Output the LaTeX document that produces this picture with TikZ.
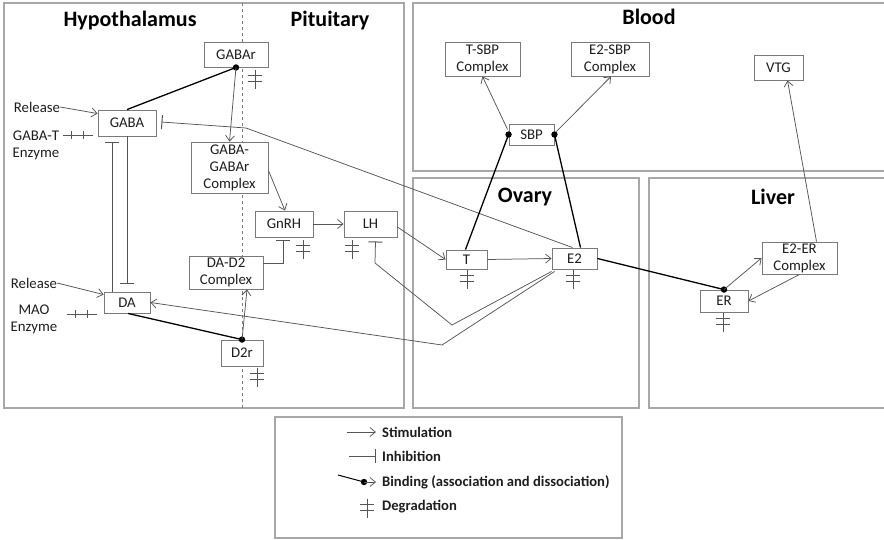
\documentclass[tikz,border=0pt]{standalone}
\usepackage{fontspec}
\setmainfont{Carlito}
\usetikzlibrary{arrows.meta}

\definecolor{panelc}{HTML}{A8A8A8}
\definecolor{boxc}{HTML}{7A7A7A}
\definecolor{linec}{HTML}{555555}
\definecolor{textc}{HTML}{1E1E1E}

\tikzset{
  panel/.style={draw=panelc, line width=1.4pt},
  species/.style={draw=boxc, line width=0.9pt, fill=white, inner sep=0pt, align=center,
    text=textc, font=\fontsize{14.8}{17}\selectfont},
  title/.style={font=\bfseries\fontsize{22}{25}\selectfont, text=black},
  side/.style={align=center, text=textc, font=\fontsize{14.8}{17}\selectfont, inner sep=0pt},
  legtext/.style={anchor=west, text=textc, inner sep=0pt, font=\bfseries\fontsize{14.6}{16}\selectfont},
  stim/.style={draw=linec, line width=0.75pt, -{Straight Barb[length=5.5pt,width=9pt]}},
  inh/.style={draw=linec, line width=0.75pt, -{Bar[width=14pt,line width=1pt]}},
  bind/.style={draw=black, line width=1.3pt},
  deg/.style={draw=linec, line width=0.8pt},
  degv/.pic={\draw[deg] (0,0) -- (0,19) (-7,5) -- (7,5) (-7,11) -- (7,11);},
  degh/.pic={\draw[deg] (0,0) -- (-30,0) (-9,-4) -- (-9,4) (-21,-4) -- (-21,4);},
}

\begin{document}
\begin{tikzpicture}[x=1pt, y=-1pt]
\useasboundingbox (0,0) rectangle (884,539);

% compartments
\draw[panel] (4,3) rectangle (404,408);
\draw[boxc, dashed, line width=0.7pt] (242,3) -- (242,408);
\draw[panel] (413,3) rectangle (892,171);
\draw[panel] (413,178) rectangle (639,408);
\draw[panel] (649,178) rectangle (892,408);
\draw[panel] (275,417) rectangle (622,538);

\node[title] (tHyp) at (130,21) {Hypothalamus};
\node[title] (tPit) at (330,21) {Pituitary};
\node[title] (tBlood) at (649,17) {Blood};
\node[title] (tOvary) at (525,197) {Ovary};
\node[title] (tLiver) at (773,197) {Liver};

% species
\node[species, minimum width=64pt, minimum height=25pt] (GABAr) at (236,54.5) {GABAr};
\node[species, minimum width=58pt, minimum height=26pt] (GABA) at (127,123) {GABA};
\node[species, minimum width=77pt, minimum height=51pt] (GGC) at (229.5,167.5) {GABA-\\GABAr\\Complex};
\node[species, minimum width=58pt, minimum height=26pt] (GnRH) at (284,224) {GnRH};
\node[species, minimum width=53pt, minimum height=26pt] (LH) at (370.5,224) {LH};
\node[species, minimum width=74pt, minimum height=33pt] (DAD2) at (226,272.5) {DA-D2\\Complex};
\node[species, minimum width=46pt, minimum height=21pt] (DA) at (127,302.5) {DA};
\node[species, minimum width=42pt, minimum height=26pt] (D2r) at (242,353) {D2r};
\node[species, minimum width=75pt, minimum height=34pt] (TSBP) at (482.5,59) {T-SBP\\Complex};
\node[species, minimum width=78pt, minimum height=34pt] (E2SBP) at (610,59) {E2-SBP\\Complex};
\node[species, minimum width=49pt, minimum height=25pt] (VTG) at (778.5,67.5) {VTG};
\node[species, minimum width=45pt, minimum height=21pt] (SBP) at (531.5,134.5) {SBP};
\node[species, minimum width=41pt, minimum height=19pt] (T) at (466.5,259.5) {T};
\node[species, minimum width=45pt, minimum height=21pt] (E2) at (574.5,258.5) {E2};
\node[species, minimum width=48pt, minimum height=22pt] (ER) at (724,301) {ER};
\node[species, minimum width=75pt, minimum height=32pt] (E2ER) at (799.5,258) {E2-ER\\Complex};

% side labels
\node[side] (rel1) at (37,107) {Release};
\node[side] (gabat) at (36,145) {GABA-T\\Enzyme};
\node[side] (rel2) at (34,283) {Release};
\node[side] (mao) at (34,319) {MAO\\Enzyme};

% bend points
\coordinate (bGABA) at (246,128);
\coordinate (bLH1) at (452,325);
\coordinate (bLH2) at (375,263);
\coordinate (bDA) at (442,345);

% hypothalamus / pituitary
\draw[stim] (rel1.east) -- ([yshift=-4pt]GABA.north west);
\draw[stim] (rel2.east) -- ([yshift=-3pt]DA.north west);
\draw[bind] (GABA.north) -- (GABAr.south);
\fill (GABAr.south) circle (3.2);
\draw[stim] (GABAr.south) -- (GGC.north);
\draw[inh] ([xshift=-15pt]DA.north) -- ([xshift=-15pt,yshift=-6pt]GABA.south);
\draw[inh] (GABA.south) -- ([yshift=8pt]DA.north);
\draw[inh] ([xshift=-2pt]E2.north) -- (bGABA) -- ([xshift=5pt,yshift=1pt]GABA.east);
\draw[stim] ([yshift=-3pt]GGC.east) -- ([xshift=1pt]GnRH.north);
\draw[stim] (GnRH.east) -- (LH.west);
\draw[inh] ([yshift=9.5pt]DAD2.east) -| ([xshift=-1pt,yshift=-3pt]GnRH.south);
\draw[bind] ([xshift=1pt]DA.south) -- (D2r.north);
\fill (D2r.north) circle (3.2);
\draw[stim] (D2r.north) -- ([xshift=21pt]DAD2.south);

% ovary and blood
\draw[stim] ([yshift=-3pt]LH.east) -- (T.west);
\draw[stim] (T.east) -- (E2.west);
\draw[inh] ([yshift=-2pt]E2.south west) -- (bLH1) -- (bLH2) -- ([xshift=5pt,yshift=-4pt]LH.south);
\draw[stim] ([xshift=3pt,yshift=-2pt]E2.south west) -- (bDA) -- (DA.east);
\draw[bind] ([xshift=-1pt]T.north) -- (SBP.west);
\draw[bind] ([xshift=6pt]E2.north) -- (SBP.east);
\fill (SBP.west) circle (3.2);
\fill (SBP.east) circle (3.2);
\draw[stim] ([xshift=-1pt,yshift=5pt]SBP.west) -- (TSBP.south);
\draw[stim] ([xshift=2pt,yshift=3pt]SBP.east) -- ([xshift=1pt]E2SBP.south);

% liver
\draw[bind] (E2.east) -- (ER.north);
\fill (ER.north) circle (3.2);
\draw[stim] (ER.north) -- (E2ER.west);
\draw[stim] (E2ER.south) -- (ER.east);
\draw[stim] ([xshift=17pt]E2ER.north) -- ([xshift=9pt]VTG.south);

% degradation marks
\pic at ([xshift=19pt,yshift=-3pt]GABAr.south) {degv};
\pic at ([xshift=-5pt,yshift=-12pt]GABA.west) {degh};
\pic at ([xshift=-7pt,yshift=-11.5pt]DA.west) {degh};
\pic at ([xshift=15pt,yshift=-2pt]D2r.south) {degv};
\pic at ([xshift=19pt,yshift=-3pt]GnRH.south) {degv};
\pic at ([xshift=-18.5pt,yshift=-3pt]LH.south) {degv};
\pic at ([xshift=0.5pt,yshift=-1pt]T.south) {degv};
\pic at ([xshift=-1.5pt,yshift=-1pt]E2.south) {degv};
\pic at ([xshift=-1pt,yshift=-1pt]ER.south) {degv};

% legend
\coordinate (lS1) at (347,432); \coordinate (lS2) at (376,432);
\coordinate (lI1) at (349,456); \coordinate (lI2) at (376,456);
\coordinate (lB1) at (338,475); \coordinate (lB2) at (364,482); \coordinate (lB3) at (376,482);
\draw[stim] (lS1) -- (lS2);
\draw[inh] (lI1) -- (lI2);
\draw[bind, line width=1pt] (lB1) -- (lB2);
\fill (lB2) circle (3.2);
\draw[stim] (lB2) -- (lB3);
\pic at (367,499) {degv};
\node[legtext] (lgS) at (382,432) {Stimulation};
\node[legtext] (lgI) at (382,456) {Inhibition};
\node[legtext] (lgB) at (382,482) {Binding (association and dissociation)};
\node[legtext] (lgD) at (382,507) {Degradation};
\end{tikzpicture}
\end{document}
